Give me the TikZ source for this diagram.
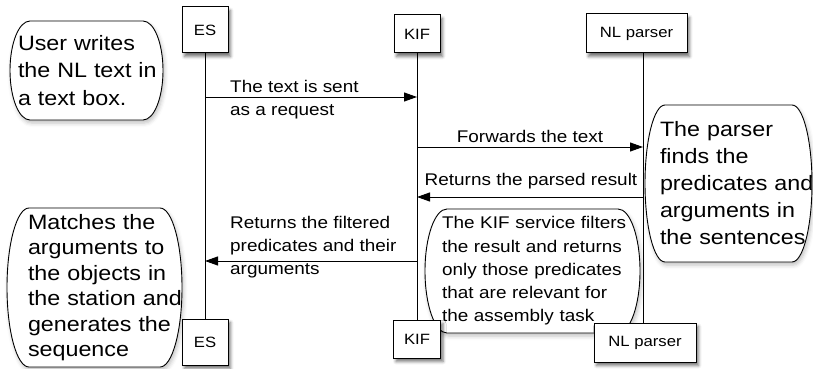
\documentclass[tikz,border=0pt]{standalone}
\usepackage{fontspec}
\setmainfont[FakeStretch=1.12]{Liberation Sans}
\usetikzlibrary{arrows.meta,shadows,shadows.blur,calc,backgrounds}
\hyphenpenalty=10000
\exhyphenpenalty=10000

\tikzset{
  box/.style={draw, fill=white, line width=1pt, inner sep=0pt, outer sep=0pt,
    font=\fontsize{14.9}{18}\selectfont,
    blur shadow={shadow xshift=2.5pt, shadow yshift=-3.5pt, shadow blur radius=3pt, shadow opacity=55}},
  lifeline/.style={line width=1pt},
  msg/.style={line width=1pt, -{Triangle[length=13pt,width=9pt]}},
  lbl/.style={inner sep=0pt, font=\fontsize{16.9}{23}\selectfont, align=left},
  notetext/.style={inner ysep=0pt, outer sep=0pt, align=left,
    execute at begin node={\hyphenpenalty=10000\exhyphenpenalty=10000\lefthyphenmin=64\righthyphenmin=64}},
  noteline/.style={draw, fill=white, line width=0.9pt,
    blur shadow={shadow xshift=1.5pt, shadow yshift=-3pt, shadow blur radius=4pt, shadow opacity=25}},
}

\newcommand\noteshape[2]{%
  \path[noteline] ([xshift=#2pt]#1.north west) -- ([xshift=-#2pt]#1.north east)
    .. controls ([xshift={-0.448*#2pt}]#1.north east) and ($(#1.north east)!0.448!(#1.east)$) .. (#1.east)
    .. controls ($(#1.south east)!0.448!(#1.east)$) and ([xshift={-0.448*#2pt}]#1.south east) .. ([xshift=-#2pt]#1.south east)
    -- ([xshift=#2pt]#1.south west)
    .. controls ([xshift={0.448*#2pt}]#1.south west) and ($(#1.south west)!0.448!(#1.west)$) .. (#1.west)
    .. controls ($(#1.north west)!0.448!(#1.west)$) and ([xshift={0.448*#2pt}]#1.north west) .. ([xshift=#2pt]#1.north west)
    -- cycle;}

\begin{document}
\begin{tikzpicture}[x=1pt,y=-1pt]
\useasboundingbox (0,0) rectangle (813,369);

% participant boxes
\node[box, minimum width=46pt, minimum height=46pt] (ESt) at (205,30) {ES};
\node[box, minimum width=46pt, minimum height=38pt] (KIFt) at (417,34) {KIF};
\node[box, minimum width=101pt, minimum height=39pt] (NLt) at (636.5,33.5) {NL parser};
\node[box, minimum width=46pt, minimum height=46pt] (ESb) at (205,342) {ES};
\node[box, minimum width=47pt, minimum height=38pt] (KIFb) at (417,339) {KIF};
\node[box, minimum width=102pt, minimum height=39pt] (NLb) at (645,342.5) {NL parser};

\coordinate (nlx) at (643,0);
\coordinate (y1) at (0,97);
\coordinate (y2) at (0,147);
\coordinate (y3) at (0,197);
\coordinate (y4) at (0,261);

% lifelines
\draw[lifeline] (ESt.south) -- (ESb.north);
\draw[lifeline] (KIFt.south) -- (KIFb.north);
\draw[lifeline] (NLt.south -| nlx) -- (NLb.north -| nlx);

% messages
\draw[msg] (ESt |- y1) -- (KIFt |- y1);
\draw[msg] (KIFt |- y2) -- (nlx |- y2);
\draw[msg] (nlx |- y3) -- (KIFt |- y3);
\draw[msg] (KIFt |- y4) -- (ESt |- y4);

\node[lbl, anchor=north west] (L1) at (230,79.7) {The text is sent\\as a request};
\node[lbl, anchor=base] (L2) at (530,142) {Forwards the text};
\node[lbl, anchor=base] (L3) at (531,185) {Returns the parsed result};
\node[lbl, anchor=north west] (L4) at (230,215.7) {Returns the filtered\\predicates and their\\arguments};

% notes
\node[notetext, font=\fontsize{20.8}{27.5}\selectfont, text width=137pt, inner xsep=8pt,
  minimum width=153pt, minimum height=99pt] (N1) at (86.5,70.5)
  {User~writes\\the~NL~text~in\\a~text~box.};
\node[notetext, font=\fontsize{20.8}{25.5}\selectfont, text width=133pt, inner xsep=21pt,
  minimum width=175pt, minimum height=159pt] (N2) at (94.5,287.5)
  {Matches~the\\arguments~to\\the~objects~in\\the~station~and\\generates~the\\sequence};
\node[notetext, font=\fontsize{20.8}{27}\selectfont, text width=137pt, inner xsep=15pt,
  minimum width=167pt, minimum height=157pt] (N3) at (728.5,183.5)
  {The~parser\\finds~the\\predicates~and\\arguments~in\\the~sentences};
\node[notetext, font=\fontsize{16.9}{23.3}\selectfont, text width=181pt, inner xsep=17pt,
  minimum width=215pt, minimum height=124pt] (N4) at (532.5,271)
  {The~KIF~service~filters\\the~result~and~returns\\only~those~predicates\\that~are~relevant~for\\the~assembly~task};

\begin{scope}[on background layer]
  \noteshape{N1}{20}
  \noteshape{N2}{22}
  \noteshape{N3}{20}
  \noteshape{N4}{22}
\end{scope}
\end{tikzpicture}
\end{document}
